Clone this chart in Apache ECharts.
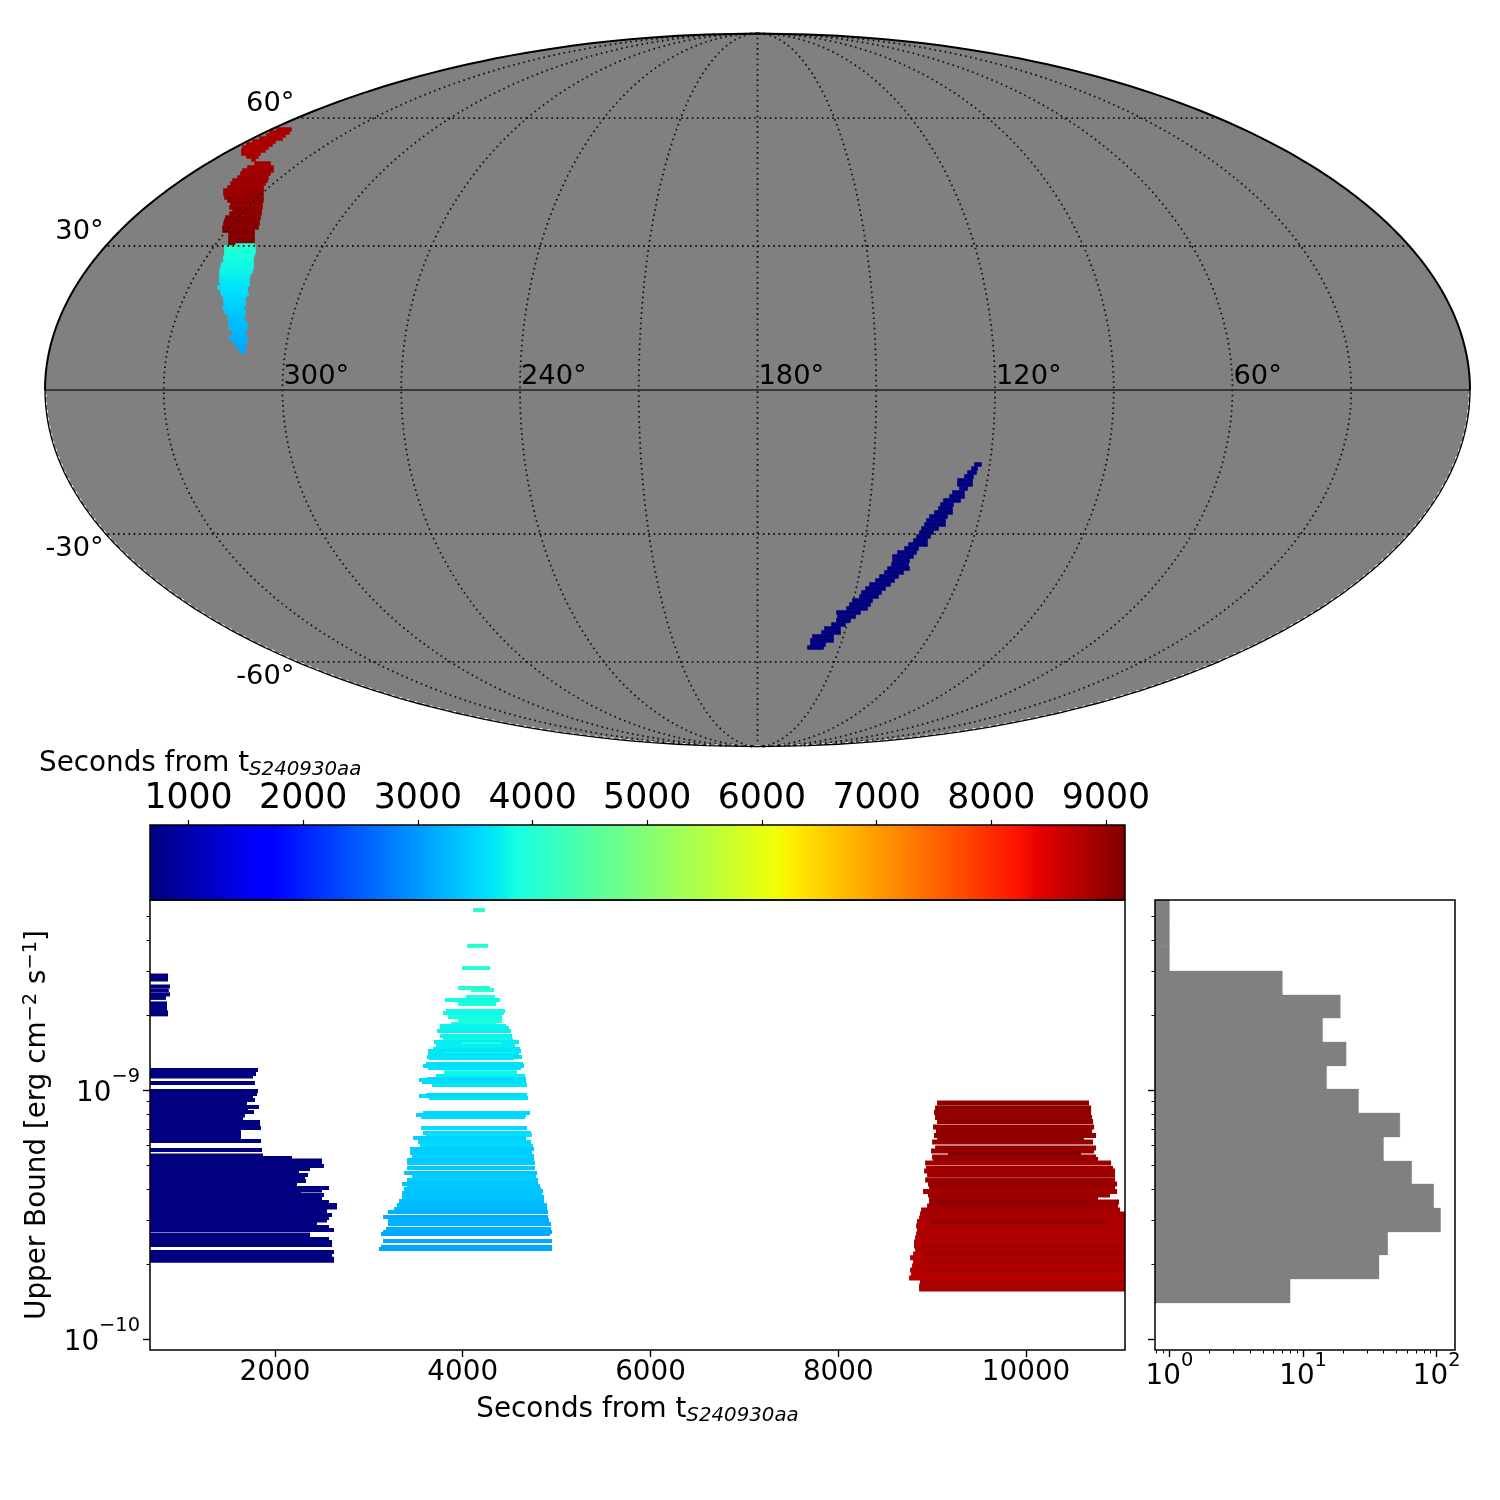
<!DOCTYPE html>
<html><head><meta charset="utf-8">
<style>html,body{margin:0;padding:0;background:#fff}#c{width:1500px;height:1500px}</style>
<script src="https://cdn.jsdelivr.net/npm/echarts@6/dist/echarts.min.js"></script>
</head><body><div id="c"></div>
<script>
// ---- time / upper-bound rows (log10 of upper bound, first and last second of coverage) ----
const navyStart = 669;
const navyLogUL = [-8.539,-8.547,-8.555,-8.583,-8.599,-8.615,-8.629,-8.651,-8.663,-8.675,-8.687,-8.695,
 -8.918,-8.935,-8.945,-8.971,-9.003,-9.015,-9.025,-9.039,-9.051,-9.067,-9.075,-9.087,-9.101,-9.111,-9.127,-9.139,-9.151,-9.167,-9.180,-9.188,-9.196,-9.204,
 -9.240,-9.262,-9.272,-9.282,-9.290,-9.304,-9.316,-9.326,-9.340,-9.352,-9.364,-9.374,-9.380,-9.392,-9.402,-9.408,-9.420,-9.431,-9.437,-9.449,-9.461,-9.471,-9.485,-9.501,-9.513,-9.523,-9.537,-9.549,-9.561,-9.579,-9.589,-9.597,-9.609,-9.621,-9.649,-9.661,-9.677,-9.685];
const navyEnd = [861,861,861,882,869,882,839,850,850,850,861,861,
 1819,1798,1766,1787,1819,1809,1766,1787,1702,1830,1713,1777,1681,1660,1841,1841,1851,1638,1638,1638,1553,1851,
 1862,1873,2182,2501,2501,2522,2373,2256,2352,2320,2331,2086,2235,2576,2501,2277,2522,2469,2501,2576,2661,2661,2554,2608,2576,2554,2448,2576,2629,2373,2373,2576,2608,2608,2629,2608,2629,2629];

const cyanLogUL = [-8.276,-8.420,-8.509,-8.589,-8.597,-8.625,-8.637,-8.653,-8.682,-8.690,-8.706,-8.722,-8.734,-8.742,-8.750,-8.762,-8.782,-8.798,-8.806,-8.814,-8.822,-8.834,-8.842,-8.854,-8.858,-8.866,-8.870,-8.894,-8.902,-8.910,-8.927,-8.943,-8.955,-8.959,-8.967,-8.979,-9.019,-9.023,-9.031,-9.091,-9.099,-9.107,-9.151,-9.171,-9.180,-9.192,-9.208,-9.224,-9.236,-9.252,-9.264,-9.280,-9.292,-9.312,-9.332,-9.348,-9.360,-9.376,-9.384,-9.396,-9.404,-9.412,-9.429,-9.445,-9.461,-9.477,-9.489,-9.509,-9.521,-9.537,-9.557,-9.569,-9.577,-9.605,-9.629,-9.637];
const cyanStart = [4110,4046,3992,3950,4088,4035,3811,3950,3822,3790,3843,3950,3875,3758,3758,3726,3758,3790,3694,3992,3716,3683,3630,3811,3630,3620,3641,3609,3577,3630,3801,3716,3620,3534,3566,3673,3609,3534,3641,3577,3502,3556,3556,3577,3609,3471,3524,3545,3439,3439,3460,3407,3407,3407,3375,3460,3407,3353,3407,3375,3375,3353,3353,3321,3300,3268,3204,3151,3204,3204,3183,3151,3130,3151,3130,3108];
const cyanEnd = [4237,4269,4291,4291,4333,4344,4397,4355,4451,4440,4419,4419,4355,4461,4493,4514,4525,4536,4600,4419,4557,4610,4621,4536,4600,4632,4546,4642,4653,4621,4578,4664,4674,4664,4674,4685,4685,4600,4696,4717,4674,4664,4685,4728,4738,4674,4728,4749,4760,4738,4760,4760,4770,4770,4792,4781,4802,4802,4823,4834,4855,4845,4866,4866,4898,4898,4909,4909,4919,4941,4941,4951,4930,4951,4951,4951];

const redLogUL = [-9.051,-9.071,-9.089,-9.109,-9.125,-9.147,-9.163,-9.182,-9.196,-9.208,-9.232,-9.244,-9.256,-9.268,-9.278,-9.292,-9.314,-9.324,-9.340,-9.360,-9.376,-9.390,-9.406,-9.420,-9.433,-9.449,-9.465,-9.481,-9.497,-9.513,-9.527,-9.545,-9.561,-9.577,-9.593,-9.609,-9.625,-9.641,-9.657,-9.673,-9.690,-9.706,-9.722,-9.738,-9.754,-9.772,-9.786,-9.798,
 -9.449,-9.529,-9.625,-9.657,-9.690,-9.722,-9.365];
const redStart = [9052,9031,9020,9031,9052,9009,9041,9020,9052,8999,9031,8988,9169,8999,9009,8925,8935,8914,8946,8925,8956,8967,8903,8956,8967,8967,8946,8882,8871,8861,8839,8829,8839,8829,8818,8807,8807,8818,8797,8765,8797,8786,8765,8775,8754,8871,8861,8861,
 9041,8999,8892,8925,8900,8880,8990];
const redEnd = [10671,10693,10693,10703,10714,10725,10703,10746,10618,10714,10746,10725,10586,10746,10767,10906,10927,10948,10948,10948,10970,10948,10970,10895,10767,10991,10980,11002,11200,11200,11200,11200,11200,11200,11200,11200,11200,11200,11200,11200,11200,11200,11200,11200,11200,11200,11200,11200,
 10650,10860,11020,11030,11100,11050,10900];

// ---- histogram of the upper bounds ----
const histLogEdges = [-8.232,-8.328,-8.424,-8.521,-8.617,-8.710,-8.806,-8.902,-8.995,-9.091,-9.188,-9.284,-9.376,-9.473,-9.569,-9.661,-9.758,-9.854];
const histCounts = [1,1,1,7,19,14,21,15,26,53,40,65,95,107,43,37,8];

// ---- sky map rows in Mollweide plane units: height, left, right, time ----
const skyRedY = [260.5,257.5,254.5,251.5,248.5,245.5,242.5,239.5,236.5,233.5,230.5,
 226.5,222.5,219.5,216.5,212.5,209.5,206.5,202.5,199.5,196.5,192.5,189.5,186.5,182.5,179.5,176.5,172.5,169.5,166.5,162.5,159.5,156.5,152.5,149.5,146.5];
const skyRedL = [-480.5,-487.5,-490.5,-497.5,-504.5,-510.5,-514.5,-515.5,-515.5,-510.5,-505.5,
 -502.5,-509.5,-514.5,-516.5,-519.5,-524.5,-526.5,-529.5,-533.5,-533.5,-532.5,-529.5,-526.5,-527.5,-524.5,-527.5,-531.5,-532.5,-533.5,-534.5,-534.5,-528.5,-528.5,-528.5,-528.5];
const skyRedR = [-466.5,-468.5,-472.5,-475.5,-482.5,-485.5,-489.5,-492.5,-497.5,-499.5,-502.5,
 -487.5,-484.5,-484.5,-487.5,-489.5,-490.5,-492.5,-494.5,-494.5,-494.5,-494.5,-494.5,-495.5,-495.5,-496.5,-496.5,-497.5,-498.5,-498.5,-499.5,-503.5,-503.5,-503.5,-503.5,-503.5];
const skyRedT = [8840,8840,8845,8845,8850,8850,8855,8855,8860,8860,8865,
 8880,8890,8900,8910,8920,8935,8945,8955,8965,8980,8990,9000,9015,9025,9040,9050,9065,9080,9090,9105,9120,9135,9150,9160,9165];

const skyCyanY = [144.5,142.5,138.5,135.5,132.5,128.5,125.5,122.5,118.5,115.5,112.5,108.5,105.5,102.5,98.5,95.5,92.5,88.5,85.5,82.5,78.5,75.5,72.5,68.5,65.5,62.5,58.5,55.5,52.5,48.5,45.5,42.5,38.5];
const skyCyanL = [-521.5,-532.5,-532.5,-532.5,-533.5,-533.5,-535.5,-536.5,-537.5,-537.5,-537.5,-537.5,-536.5,-539.5,-536.5,-535.5,-533.5,-533.5,-532.5,-534.5,-532.5,-529.5,-528.5,-528.5,-528.5,-528.5,-524.5,-524.5,-527.5,-524.5,-521.5,-520.5,-516.5];
const skyCyanR = [-503.5,-502.5,-502.5,-503.5,-504.5,-504.5,-504.5,-504.5,-505.5,-507.5,-508.5,-508.5,-508.5,-510.5,-510.5,-509.5,-512.5,-512.5,-512.5,-514.5,-512.5,-512.5,-514.5,-512.5,-510.5,-510.5,-512.5,-512.5,-510.5,-510.5,-514.5,-512.5,-512.5];
const skyCyanT = [4000,3980,3950,3920,3890,3860,3830,3800,3770,3740,3710,3680,3650,3620,3590,3560,3530,3500,3470,3440,3410,3380,3350,3320,3300,3280,3260,3240,3220,3200,3180,3160,3130];

const skyNavyY = [-74.5,-78.5,-82.5,-86.5,-90.5,-94.5,-98.5,-102.5,-106.5,-110.5,-114.5,-118.5,-122.5,-126.5,-130.5,-134.5,-138.5,-142.5,-146.5,-150.5,-154.5,-158.5,-162.5,-166.5,-170.5,-174.5,-178.5,-182.5,-186.5,-190.5,-194.5,-198.5,-202.5,-206.5,-210.5,-214.5,-218.5,-222.5,-226.5,-230.5,-234.5,-238.5,-242.5,-246.5,-250.5,-254.5,-257.5];
const skyNavyL = [217.5,214.5,210.5,207.5,200.5,200.5,202.5,195.5,192.5,186.5,183.5,181.5,177.5,172.5,169.5,167.5,164.5,162.5,159.5,156.5,151.5,147.5,140.5,135.5,135.5,134.5,130.5,127.5,122.5,118.5,112.5,108.5,104.5,102.5,95.5,92.5,89.5,79.5,80.5,79.5,74.5,67.5,64.5,55.5,53.5,53.5,50.5];
const skyNavyR = [223.5,219.5,218.5,215.5,214.5,214.5,209.5,206.5,206.5,202.5,195.5,194.5,194.5,189.5,187.5,187.5,180.5,175.5,172.5,169.5,169.5,160.5,158.5,155.5,151.5,150.5,151.5,145.5,140.5,136.5,132.5,127.5,123.5,120.5,114.5,112.5,109.5,102.5,97.5,92.5,87.5,82.5,82.5,75.5,75.5,67.5,65.5];

// ---- ticks and labels ----
const skyMeridians = [30,60,90,120,150,180,210,240,270,300,330];
const skyParallels = [-60,-30,30,60];
const skyLonLabels = [300,240,180,120,60];
const skyLatLabels = [60,30,-30,-60];
const timeTicks = [2000,4000,6000,8000,10000];
const colorbarTicks = [1000,2000,3000,4000,5000,6000,7000,8000,9000];
const ulMajor = [1e-10,1e-9];
const ulMinor = [2e-10,3e-10,4e-10,5e-10,6e-10,7e-10,8e-10,9e-10,2e-9,3e-9,4e-9,5e-9];
const countMajor = [1,10,100];
const countMinor = [0.8,0.9,2,3,4,5,6,7,8,9,20,30,40,50,60,70,80,90];

const COLOR_MIN = 664, COLOR_MAX = 9166;
const FONT = '"DejaVu Sans"';
const FS = 27.8;

function lerpTable(tb, t){
  for(let i=1;i<tb.length;i++) if(t<=tb[i][0]) {
    const a=tb[i-1], b=tb[i];
    return a[1]+(b[1]-a[1])*(t-a[0])/(b[0]-a[0]);
  }
  return tb[tb.length-1][1];
}
const JR=[[0,0],[0.35,0],[0.66,1],[0.89,1],[1,0.5]];
const JG=[[0,0],[0.125,0],[0.375,1],[0.64,1],[0.91,0],[1,0]];
const JB=[[0,0.5],[0.11,1],[0.34,1],[0.65,0],[1,0]];
function jetN(t){
  t=Math.max(0,Math.min(1,t));
  return 'rgb('+[JR,JG,JB].map(c=>Math.round(255*lerpTable(c,t))).join(',')+')';
}
const jet = v => jetN((v-COLOR_MIN)/(COLOR_MAX-COLOR_MIN));

// Mollweide: lon increases to the left, centred on 180
const RX=712.5, RY=356.5;
function moll(lon,lat){
  const phi=lat*Math.PI/180;
  let th=phi;
  if(Math.abs(lat)>=90) th=phi; else
  for(let i=0;i<60;i++){ const d=(2*th+Math.sin(2*th)-Math.PI*Math.sin(phi))/(2+2*Math.cos(2*th)); th-=d; if(Math.abs(d)<1e-9)break; }
  return [-(lon-180)/180*RX*Math.cos(th), RY*Math.sin(th)];
}
function range(a,b,s){const r=[];for(let v=a;v<=b+1e-9;v+=s)r.push(v);return r;}

function rectRender(h,sw){
  return function(params,api){
    const p0=api.coord([api.value(0),api.value(2)]);
    const p1=api.coord([api.value(1),api.value(2)]);
    const shape=echarts.graphic.clipRectByRect({x:p0[0],y:p0[1]-h/2,width:p1[0]-p0[0],height:h},
      {x:params.coordSys.x,y:params.coordSys.y,width:params.coordSys.width,height:params.coordSys.height});
    const col=jet(api.value(3));
    return shape && {type:'rect',shape,style:sw?{fill:col,stroke:col,lineWidth:sw}:{fill:col}};
  };
}
function rowSeries(x,y,data,h,z,sw){
  return {type:'custom',xAxisIndex:x,yAxisIndex:y,data,renderItem:rectRender(h,sw),encode:{x:[0,1],y:2},silent:true,z,animation:false};
}
const rows=(lg,s,e)=>lg.map((v,i)=>[Array.isArray(s)?s[i]:s,e[i],Math.pow(10,v),Array.isArray(s)?s[i]:s]);
const skyRows=(y,l,r,t)=>y.map((v,i)=>[l[i],r[i],v,Array.isArray(t)?t[i]:t]);

const series=[];
// sky background
const edge=range(-90,90,1).map(l=>moll(360,l)).concat(range(-90,90,1).reverse().map(l=>moll(0,l)));
series.push({type:'custom',xAxisIndex:0,yAxisIndex:0,data:[[0,0]],silent:true,z:1,clip:false,
 renderItem:(p,api)=>({type:'polygon',shape:{points:edge.map(q=>api.coord(q))},style:{fill:'#808080'}})});
// sky regions
series.push(rowSeries(0,0,skyRows(skyRedY,skyRedL,skyRedR,skyRedT),3,2,1.6));
series.push(rowSeries(0,0,skyRows(skyCyanY,skyCyanL,skyCyanR,skyCyanT),3,2,1.6));
series.push(rowSeries(0,0,skyRows(skyNavyY,skyNavyL,skyNavyR,navyStart),3,2,1.6));
// graticule
const lineS=(data,style,z)=>({type:'line',xAxisIndex:0,yAxisIndex:0,data,showSymbol:false,symbol:'none',silent:true,z:z||3,clip:false,lineStyle:style,animation:false});
const dotted={color:'#111',width:1.8,type:[1.6,3.6]};
skyMeridians.forEach(lon=>series.push(lineS(range(-90,90,1).map(l=>moll(lon,l)),dotted)));
skyParallels.forEach(lat=>series.push(lineS(range(0,360,5).map(l=>moll(l,lat)),dotted)));
series.push(lineS(range(0,360,5).map(l=>moll(l,0)),{color:'#222',width:1.7}));
// outline: upper part dark, lower part speckled with white
series.push(lineS(range(0,90,1).map(l=>moll(0,l)),{color:'#000',width:2}));
series.push(lineS(range(0,90,1).map(l=>moll(360,l)),{color:'#000',width:2}));
[0,360].forEach(lon=>{
 series.push(lineS(range(-90,0,1).map(l=>moll(lon,l)),{color:'#fff',width:3,type:[3,5]},3));
 series.push(lineS(range(-90,0,1).map(l=>moll(lon,l)),{color:'#000',width:1.3},4));
});
// sky labels
const textStyle={fontFamily:FONT,fontSize:27.3,fill:'#000'};
series.push({type:'custom',xAxisIndex:0,yAxisIndex:0,silent:true,z:4,clip:false,data:skyLonLabels.map(l=>[l]),
 renderItem:(p,api)=>{const l=api.value(0);const c=api.coord(moll(l,0));
   return {type:'text',style:Object.assign({text:l+'°',x:c[0]+1,y:c[1]-13.5,textAlign:'left',textVerticalAlign:'middle'},textStyle)};}});
series.push({type:'custom',xAxisIndex:0,yAxisIndex:0,silent:true,z:4,clip:false,data:skyLatLabels.map(l=>[l]),
 renderItem:(p,api)=>{const l=api.value(0);const c=api.coord(moll(360,l));
   return {type:'text',style:Object.assign({text:l+'°',x:c[0]-2,y:c[1]+(l>0?-14:15),textAlign:'right',textVerticalAlign:'middle'},textStyle)};}});
// colour bar
const cbStops=[0,0.11,0.125,0.34,0.35,0.375,0.64,0.65,0.66,0.89,0.91,1];
series.push({type:'custom',xAxisIndex:1,yAxisIndex:1,silent:true,z:2,data:[[COLOR_MIN,COLOR_MAX]],encode:{x:[0,1]},
 renderItem:(p,api)=>{const a=api.coord([api.value(0),1]),b=api.coord([api.value(1),0]);
   return {type:'rect',shape:{x:a[0],y:a[1],width:b[0]-a[0],height:b[1]-a[1]},
     style:{fill:new echarts.graphic.LinearGradient(0,0,1,0,cbStops.map(o=>({offset:o,color:jetN(o)})))}};}});
// bars
series.push(rowSeries(2,2,rows(navyLogUL,navyStart,navyEnd),4,2));
series.push(rowSeries(2,2,rows(cyanLogUL,cyanStart,cyanEnd),4,2));
series.push(rowSeries(2,2,rows(redLogUL,redStart,redEnd),5,2));
// histogram
series.push({type:'custom',xAxisIndex:3,yAxisIndex:4,silent:true,z:2,
 data:histCounts.map((c,i)=>[c,Math.pow(10,histLogEdges[i]),Math.pow(10,histLogEdges[i+1])]),encode:{x:0,y:[1,2]},
 renderItem:(p,api)=>{const a=api.coord([api.value(0),api.value(1)]),b=api.coord([api.value(0),api.value(2)]);
   const r=p.coordSys;
   const s=echarts.graphic.clipRectByRect({x:r.x,y:a[1],width:a[0]-r.x,height:b[1]-a[1]},{x:r.x,y:r.y,width:r.width,height:r.height});
   return s&&{type:'rect',shape:s,style:{fill:'#808080',stroke:'#808080',lineWidth:0.3}};}});

const expLabel=v=>{const e=Math.round(Math.log10(v));return '{b|10}{s|'+(e<0?'\u2212':'')+Math.abs(e)+'}';};
const plain=v=>String(v);
const expRich={b:{fontFamily:FONT,fontSize:FS,color:'#000',lineHeight:40,verticalAlign:'bottom'},
               s:{fontFamily:FONT,fontSize:19.4,color:'#000',lineHeight:40,verticalAlign:'top',padding:[0,0,12,0]}};
const subRich={a:{fontFamily:FONT,fontSize:FS,color:'#000',lineHeight:36},
               i:{fontFamily:FONT,fontSize:19.8,fontStyle:'italic',color:'#000',lineHeight:36,padding:[12,0,0,0]},
               p:{fontFamily:FONT,fontSize:19.4,color:'#000',lineHeight:36,padding:[0,0,12,0]}};
const sub='{a|Seconds from t}{i|S240930aa}';

const noLine={show:false,onZero:false};
const opt={
 animation:false,backgroundColor:'#fff',
 title:{left:39,top:746,text:sub,textStyle:{rich:subRich,fontFamily:FONT,fontSize:FS,fontWeight:'normal'},padding:0},
 grid:[
  {left:45,top:33.5,width:1425,height:713,show:false},
  {left:150,top:825,width:975,height:75,show:true,z:5,borderColor:'#000',borderWidth:1.5,backgroundColor:'transparent'},
  {left:150,top:900,width:975,height:450,show:true,z:5,borderColor:'#000',borderWidth:1.5,backgroundColor:'transparent'},
  {left:1155,top:900,width:300,height:450,show:true,z:5,borderColor:'#000',borderWidth:1.5,backgroundColor:'transparent'}
 ],
 xAxis:[
  {type:'value',gridIndex:0,min:-RX,max:RX,show:false},
  {type:'value',gridIndex:1,position:'top',min:COLOR_MIN,max:COLOR_MAX,axisLine:noLine,splitLine:{show:false},
   axisTick:{length:5,lineStyle:{color:'#000',width:1.2},customValues:colorbarTicks},
   axisLabel:{customValues:colorbarTicks,formatter:plain,fontFamily:FONT,fontSize:34.7,color:'#000',margin:9,hideOverlap:false}},
  {type:'value',gridIndex:2,position:'bottom',min:669,max:11054,axisLine:noLine,splitLine:{show:false},
   axisTick:{length:7,lineStyle:{color:'#000',width:1.4},customValues:timeTicks},
   axisLabel:{customValues:timeTicks,formatter:plain,fontFamily:FONT,fontSize:FS,color:'#000',margin:9,hideOverlap:false},
   name:sub,nameLocation:'middle',nameGap:42,nameTextStyle:{rich:subRich}},
  {type:'log',gridIndex:3,position:'bottom',min:0.78,max:137,axisLine:noLine,splitLine:{show:false},minorTick:{show:false},
   axisTick:{length:7,lineStyle:{color:'#000',width:1.4},customValues:countMajor},
   axisLabel:{customValues:countMajor,formatter:expLabel,rich:expRich,margin:1,hideOverlap:false}},
  {type:'log',gridIndex:3,position:'bottom',min:0.78,max:137,axisLine:noLine,splitLine:{show:false},
   axisTick:{length:3.5,lineStyle:{color:'#000',width:1},customValues:countMinor},axisLabel:{show:false}}
 ],
 yAxis:[
  {type:'value',gridIndex:0,min:-RY,max:RY,show:false},
  {type:'value',gridIndex:1,min:0,max:1,show:false},
  {type:'log',gridIndex:2,position:'left',min:Math.pow(10,-10.043),max:Math.pow(10,-8.2357),axisLine:noLine,splitLine:{show:false},minorTick:{show:false},
   axisTick:{length:7,lineStyle:{color:'#000',width:1.4},customValues:ulMajor},
   axisLabel:{customValues:ulMajor,formatter:expLabel,rich:expRich,margin:10,padding:[0,0,6,0],hideOverlap:false},
   name:'{a|Upper Bound [erg cm}{p|\u22122}{a| s}{p|\u22121}{a|]}',nameLocation:'middle',nameGap:91,nameRotate:90,nameTextStyle:{rich:subRich}},
  {type:'log',gridIndex:2,position:'left',min:Math.pow(10,-10.043),max:Math.pow(10,-8.2357),axisLine:noLine,splitLine:{show:false},
   axisTick:{length:3.5,lineStyle:{color:'#000',width:1},customValues:ulMinor},axisLabel:{show:false}},
  {type:'log',gridIndex:3,position:'left',min:Math.pow(10,-10.043),max:Math.pow(10,-8.2357),axisLine:noLine,splitLine:{show:false},
   axisTick:{length:7,lineStyle:{color:'#000',width:1.4},customValues:ulMajor},axisLabel:{show:false}},
  {type:'log',gridIndex:3,position:'left',min:Math.pow(10,-10.043),max:Math.pow(10,-8.2357),axisLine:noLine,splitLine:{show:false},
   axisTick:{length:3.5,lineStyle:{color:'#000',width:1},customValues:ulMinor},axisLabel:{show:false}}
 ],
 series
};
const chart=echarts.init(document.getElementById('c'),null,{renderer:'canvas',width:1500,height:1500});
chart.setOption(opt);
</script></body></html>
